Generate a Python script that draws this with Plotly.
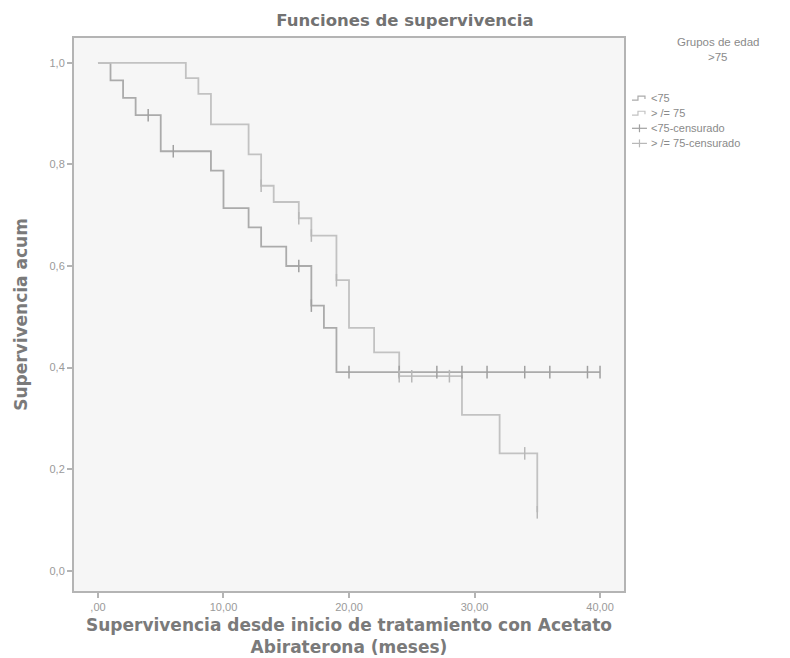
import plotly.graph_objects as go

# --- data ---
t_lt75 = [0, 1, 2, 3, 5, 9, 10, 12, 13, 15, 17, 18, 19, 40]
s_lt75 = [1.0, 0.9655, 0.931, 0.897, 0.826, 0.788, 0.714, 0.676, 0.638, 0.600, 0.522, 0.478, 0.391, 0.391]
cens_t_lt75 = [4, 6, 16, 17, 20, 24, 27, 29, 31, 34, 36, 39, 40]
cens_s_lt75 = [0.897, 0.826, 0.600, 0.522, 0.391, 0.391, 0.391, 0.391, 0.391, 0.391, 0.391, 0.391, 0.391]

t_ge75 = [0, 7, 8, 9, 12, 13, 14, 16, 17, 19, 20, 22, 24, 29, 32, 35]
s_ge75 = [1.0, 0.970, 0.939, 0.879, 0.820, 0.758, 0.726, 0.694, 0.660, 0.572, 0.478, 0.430, 0.383, 0.307, 0.231, 0.115]
cens_t_ge75 = [13, 16, 17, 19, 24, 25, 28, 34, 35]
cens_s_ge75 = [0.758, 0.694, 0.660, 0.572, 0.383, 0.383, 0.383, 0.231, 0.115]

x_tickvals = [0, 10, 20, 30, 40]
x_ticktext = [",00", "10,00", "20,00", "30,00", "40,00"]
y_tickvals = [0, 0.2, 0.4, 0.6, 0.8, 1.0]
y_ticktext = ["0,0", "0,2", "0,4", "0,6", "0,8", "1,0"]

legend_title = ["Grupos de edad", ">75"]
names = ["<75", "> /= 75", "<75-censurado", "> /= 75-censurado"]

col_lt = "#ababab"
col_ge = "#c2c2c2"
txt_col = "#8a8a8a"

W, H = 790, 658
L, R, T, B = 65, 616, 30, 591  # plot frame in pixels


def px(x):
    return (x - L) / (R - L)


def py(y):
    return (B - y) / (B - T)


def gap(xs, ys):
    gx, gy = [], []
    for a, b in zip(xs, ys):
        gx += [a, None]
        gy += [b, None]
    return gx, gy


fig = go.Figure()
fig.add_trace(go.Scatter(x=t_lt75, y=s_lt75, mode="lines", line=dict(shape="hv", color=col_lt, width=1.8),
                         name=names[0], showlegend=False))
fig.add_trace(go.Scatter(x=t_ge75, y=s_ge75, mode="lines", line=dict(shape="hv", color=col_ge, width=1.8),
                         name=names[1], showlegend=False))
cx, cy = gap(cens_t_lt75, cens_s_lt75)
fig.add_trace(go.Scatter(x=cx, y=cy, mode="markers", name=names[2], showlegend=False,
                         marker=dict(symbol="line-ns", size=9, line=dict(color="#a0a0a0", width=1.5))))
cx, cy = gap(cens_t_ge75, cens_s_ge75)
fig.add_trace(go.Scatter(x=cx, y=cy, mode="markers", name=names[3], showlegend=False,
                         marker=dict(symbol="line-ns", size=9, line=dict(color="#b8b8b8", width=1.5))))

# --- manual legend (decoration in paper coordinates) ---
shapes = []
annotations = []
for i, ttl in enumerate(legend_title):
    annotations.append(dict(text=ttl, x=px(710), y=py(34 + 15 * i), xref="paper", yref="paper",
                            xanchor="center", yanchor="middle", showarrow=False,
                            font=dict(family="Liberation Sans, Arial", size=11.5, color=txt_col)))
item_cols = [col_lt, col_ge, "#a0a0a0", "#b8b8b8"]
for i, nm in enumerate(names):
    yc = 91 + 15.3 * i
    c = item_cols[i]
    if i < 2:
        path = "M {} {} L {} {} L {} {} L {} {} L {} {}".format(
            px(624), py(yc + 2), px(630), py(yc + 2), px(630), py(yc - 2),
            px(637), py(yc - 2), px(637), py(yc + 1))
        shapes.append(dict(type="path", path=path, xref="paper", yref="paper",
                           line=dict(color=c, width=1.2)))
    else:
        shapes.append(dict(type="line", x0=px(624), x1=px(639), y0=py(yc), y1=py(yc),
                           xref="paper", yref="paper", line=dict(color=c, width=1.2)))
        shapes.append(dict(type="line", x0=px(631.5), x1=px(631.5), y0=py(yc - 4), y1=py(yc + 4),
                           xref="paper", yref="paper", line=dict(color=c, width=1.2)))
    annotations.append(dict(text=nm, x=px(641), y=py(yc), xref="paper", yref="paper",
                            xanchor="left", yanchor="middle", showarrow=False,
                            font=dict(family="Liberation Sans, Arial", size=11, color=txt_col)))

axis_common = dict(showgrid=False, zeroline=False, showline=True, linecolor="#b4b4b4", linewidth=2,
                   mirror=True, ticks="outside", tickcolor="#b4b4b4", ticklen=5, tickwidth=2,
                   tickfont=dict(family="Liberation Sans, Arial", size=11, color="#9a9a9a"))

fig.update_layout(
    width=W, height=H,
    margin=dict(l=L, r=W - R, t=T, b=H - B),
    paper_bgcolor="white", plot_bgcolor="#f6f6f6",
    title=dict(text="<b>Funciones de supervivencia</b>", x=397 / W, xanchor="center",
               y=1 - 12 / H, yanchor="middle",
               font=dict(family="DejaVu Sans", size=16.5, color="#727272")),
    xaxis=dict(range=[-1.91, 41.91], tickvals=x_tickvals, ticktext=x_ticktext,
               title=dict(text="<b>Supervivencia desde inicio de tratamiento con Acetato<br>Abiraterona (meses)</b>",
                          font=dict(family="DejaVu Sans", size=17, color="#7a7a7a"), standoff=7),
               **axis_common),
    yaxis=dict(range=[-0.04, 1.049], tickvals=y_tickvals, ticktext=y_ticktext,
               title=dict(text="<b>Supervivencia acum</b>",
                          font=dict(family="DejaVu Sans", size=17, color="#7a7a7a"), standoff=18),
               **axis_common),
    shapes=shapes,
    annotations=annotations,
    showlegend=False,
)

fig.write_html("out.html")
